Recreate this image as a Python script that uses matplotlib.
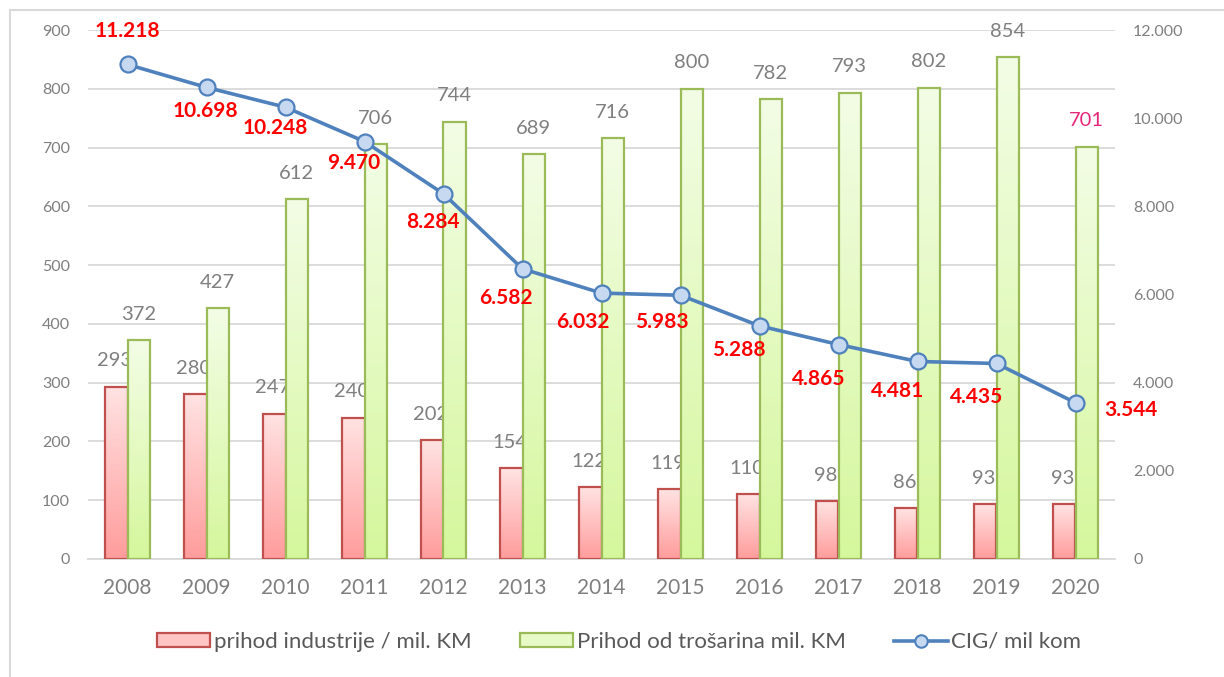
import numpy as np
import matplotlib
matplotlib.use("Agg")
import matplotlib.pyplot as plt
from matplotlib.colors import LinearSegmentedColormap
from matplotlib.lines import Line2D
from matplotlib.patches import Patch

plt.rcParams['font.family'] = ['Lato', 'DejaVu Sans']

years = ['2008', '2009', '2010', '2011', '2012', '2013', '2014',
         '2015', '2016', '2017', '2018', '2019', '2020']
industry = [293, 280, 247, 240, 202, 154, 122, 119, 110, 98, 86, 93, 93]
excise = [372, 427, 612, 706, 744, 689, 716, 800, 782, 793, 802, 854, 701]
cig = [11218, 10698, 10248, 9470, 8284, 6582, 6032, 5983, 5288, 4865, 4481, 4435, 3544]

left_ticks = [0, 100, 200, 300, 400, 500, 600, 700, 800, 900]
right_ticks = [0, 2000, 4000, 6000, 8000, 10000, 12000]

# label offsets (pixels) for the CIG labels relative to markers
cig_label_offsets = [(0, 33), (-1, -24), (-10, -21), (-11, -21), (-11, -28),
                     (-17, -29), (-19, -29), (-19, -27), (-21, -24), (-20, -34),
                     (-20, -30), (-20, -34), (55, -7)]

def fmt(v):
    return f"{v:,}".replace(",", ".")

GRAY = '#7F7F7F'
fig = plt.figure(figsize=(12.24, 6.77), dpi=100)
ax = fig.add_axes([88/1224, 1-559/677, (1115-88)/1224, (559-30)/677])
ax2 = ax.twinx()

x = np.arange(len(years))
w = 0.28

red_cmap = LinearSegmentedColormap.from_list('r', ['#FF9C9C', '#FFE3E3'])
green_cmap = LinearSegmentedColormap.from_list('g', ['#D5F79C', '#F3FDE6'])

def grad_bars(bars, cmap, edge, z):
    grad = np.linspace(0, 1, 256).reshape(-1, 1)
    for b in bars:
        bx, by = b.get_x(), b.get_y()
        bw, bh = b.get_width(), b.get_height()
        b.set_facecolor('none')
        b.set_edgecolor(edge)
        b.set_linewidth(1.6)
        b.set_zorder(z + 0.1)
        im = ax.imshow(grad, cmap=cmap, origin='lower', aspect='auto',
                       extent=[bx, bx + bw, by, by + bh], zorder=z)
        im.set_clip_path(b)

r = ax.bar(x - w/2, industry, w, zorder=3)
grad_bars(r, red_cmap, '#C0504D', 3)
for xi, v in zip(x - w/2, industry):
    ax.annotate(str(v), (xi, v), xytext=(-2, 26), textcoords='offset pixels',
                ha='center', va='center', fontsize=14.5, color=GRAY, zorder=3.5)

g = ax.bar(x + w/2, excise, w, zorder=4)
grad_bars(g, green_cmap, '#9BBB59', 4)
for i, (xi, v) in enumerate(zip(x + w/2, excise)):
    col = '#E6287A' if i == len(excise) - 1 else GRAY
    ax.annotate(str(v), (xi, v), xytext=(0, 26), textcoords='offset pixels',
                ha='center', va='center', fontsize=14.5, color=col, zorder=5)

ax.set_xlim(-0.5, len(years) - 0.5)
ax.set_ylim(0, 900)
ax.set_yticks(left_ticks)
ax.set_xticks(x)
ax.set_xticklabels(years)
ax.grid(axis='y', color='#D9D9D9', linewidth=1.3, zorder=0)
ax.set_axisbelow(True)
for s in ['top', 'left', 'right']:
    ax.spines[s].set_visible(False)
ax.spines['bottom'].set_color('#D9D9D9')
ax.spines['bottom'].set_linewidth(1.3)
ax.tick_params(axis='y', length=0, labelsize=11.5, labelcolor=GRAY, pad=13)
ax.tick_params(axis='x', length=0, labelsize=15, labelcolor=GRAY, pad=14)

ax2.set_ylim(0, 12000)
ax2.set_yticks(right_ticks)
ax2.set_yticklabels([fmt(t) for t in right_ticks])
ax2.tick_params(axis='y', length=0, labelsize=11.5, labelcolor=GRAY, pad=13)
for s in ax2.spines.values():
    s.set_visible(False)
ax2.plot(x, cig, color='#4F81BD', linewidth=2.6, marker='o', markersize=11.5,
         markerfacecolor='#C6D9F1', markeredgecolor='#4F81BD',
         markeredgewidth=1.6, zorder=6)
for xi, v, off in zip(x, cig, cig_label_offsets):
    ax2.annotate(fmt(v), (xi, v), xytext=off, textcoords='offset pixels',
                 ha='center', va='center', fontsize=15, fontweight='bold',
                 color='#FF0000', zorder=7)

handles = [Patch(facecolor='#FFC4C4', edgecolor='#C0504D', linewidth=1.6),
           Patch(facecolor='#E8FAC8', edgecolor='#9BBB59', linewidth=1.6),
           Line2D([0], [0], color='#4F81BD', linewidth=2.6, marker='o',
                  markersize=9, markerfacecolor='#C6D9F1',
                  markeredgecolor='#4F81BD', markeredgewidth=1.5)]
labels = ['prihod industrije / mil. KM', 'Prihod od trošarina mil. KM', 'CIG/ mil kom']
leg = fig.legend(handles, labels, loc='center', bbox_to_anchor=(619/1224, 1-642/677),
                 ncol=3, frameon=False, fontsize=16, handlelength=2.4,
                 handleheight=0.6, handletextpad=0.15, columnspacing=2.2,
                 labelcolor='#595959')

# outer chart frame
fig.add_artist(Line2D([10/1224, 1.0], [1-10/677, 1-10/677], color='#D9D9D9',
                      linewidth=1.5, transform=fig.transFigure))
fig.add_artist(Line2D([10/1224, 10/1224], [0, 1-10/677], color='#D9D9D9',
                      linewidth=1.5, transform=fig.transFigure))

fig.savefig('out.png', dpi=100)
